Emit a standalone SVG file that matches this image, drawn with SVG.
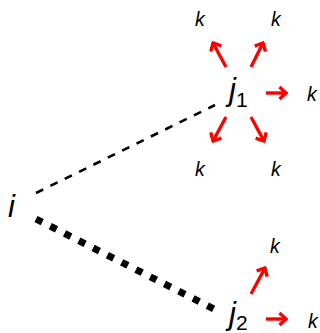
<svg xmlns="http://www.w3.org/2000/svg" width="320" height="333" viewBox="0 0 320 333">
<defs>
<style>
.lbl{font-family:"Liberation Sans",Arial,sans-serif;font-style:italic;fill:#000}
.big{font-size:31px}
.sub{font-size:21px;font-style:normal}
.k{font-size:19.5px}
.arr{stroke:#ff0000;stroke-width:3.4;fill:none;marker-end:url(#ah)}
</style>
<marker id="ah" markerUnits="userSpaceOnUse" viewBox="-10 -8 12 16" refX="0" refY="0" markerWidth="12" markerHeight="16" orient="auto">
<path d="M-6.5,-6 L0,0 L-6.5,6" fill="none" stroke="#ff0000" stroke-width="3.4" stroke-linejoin="miter"/>
</marker>
</defs>
<rect width="320" height="333" fill="#fff"/>
<g id="connectors">
<line x1="36" y1="193" x2="215" y2="105" stroke="#000" stroke-width="2.6" stroke-dasharray="8 8"/>
<line x1="36" y1="219" x2="214" y2="309" stroke="#000" stroke-width="7" stroke-dasharray="7 9"/>
<line class="arr" x1="226" y1="67" x2="213" y2="43"/>
<line class="arr" x1="251" y1="67" x2="263" y2="43"/>
<line class="arr" x1="266" y1="93" x2="286" y2="93"/>
<line class="arr" x1="226" y1="117" x2="213" y2="141"/>
<line class="arr" x1="251" y1="117" x2="264" y2="141"/>
<line class="arr" x1="251" y1="294" x2="265" y2="268"/>
<line class="arr" x1="266" y1="319" x2="286" y2="319"/>
</g>
<g id="node-i"><text class="lbl big" x="8" y="217">i</text></g>
<g id="node-j1"><text class="lbl big" x="229" y="100">j<tspan class="sub" dy="7">1</tspan></text></g>
<g id="node-j2"><text class="lbl big" x="229" y="324">j<tspan class="sub" dy="6">2</tspan></text></g>
<g id="node-k1"><text class="lbl k" x="195" y="26">k</text></g>
<g id="node-k2"><text class="lbl k" x="271" y="26">k</text></g>
<g id="node-k3"><text class="lbl k" x="307" y="101">k</text></g>
<g id="node-k4"><text class="lbl k" x="195" y="176">k</text></g>
<g id="node-k5"><text class="lbl k" x="271" y="176">k</text></g>
<g id="node-k6"><text class="lbl k" x="270" y="253">k</text></g>
<g id="node-k7"><text class="lbl k" x="308" y="328">k</text></g>
</svg>
